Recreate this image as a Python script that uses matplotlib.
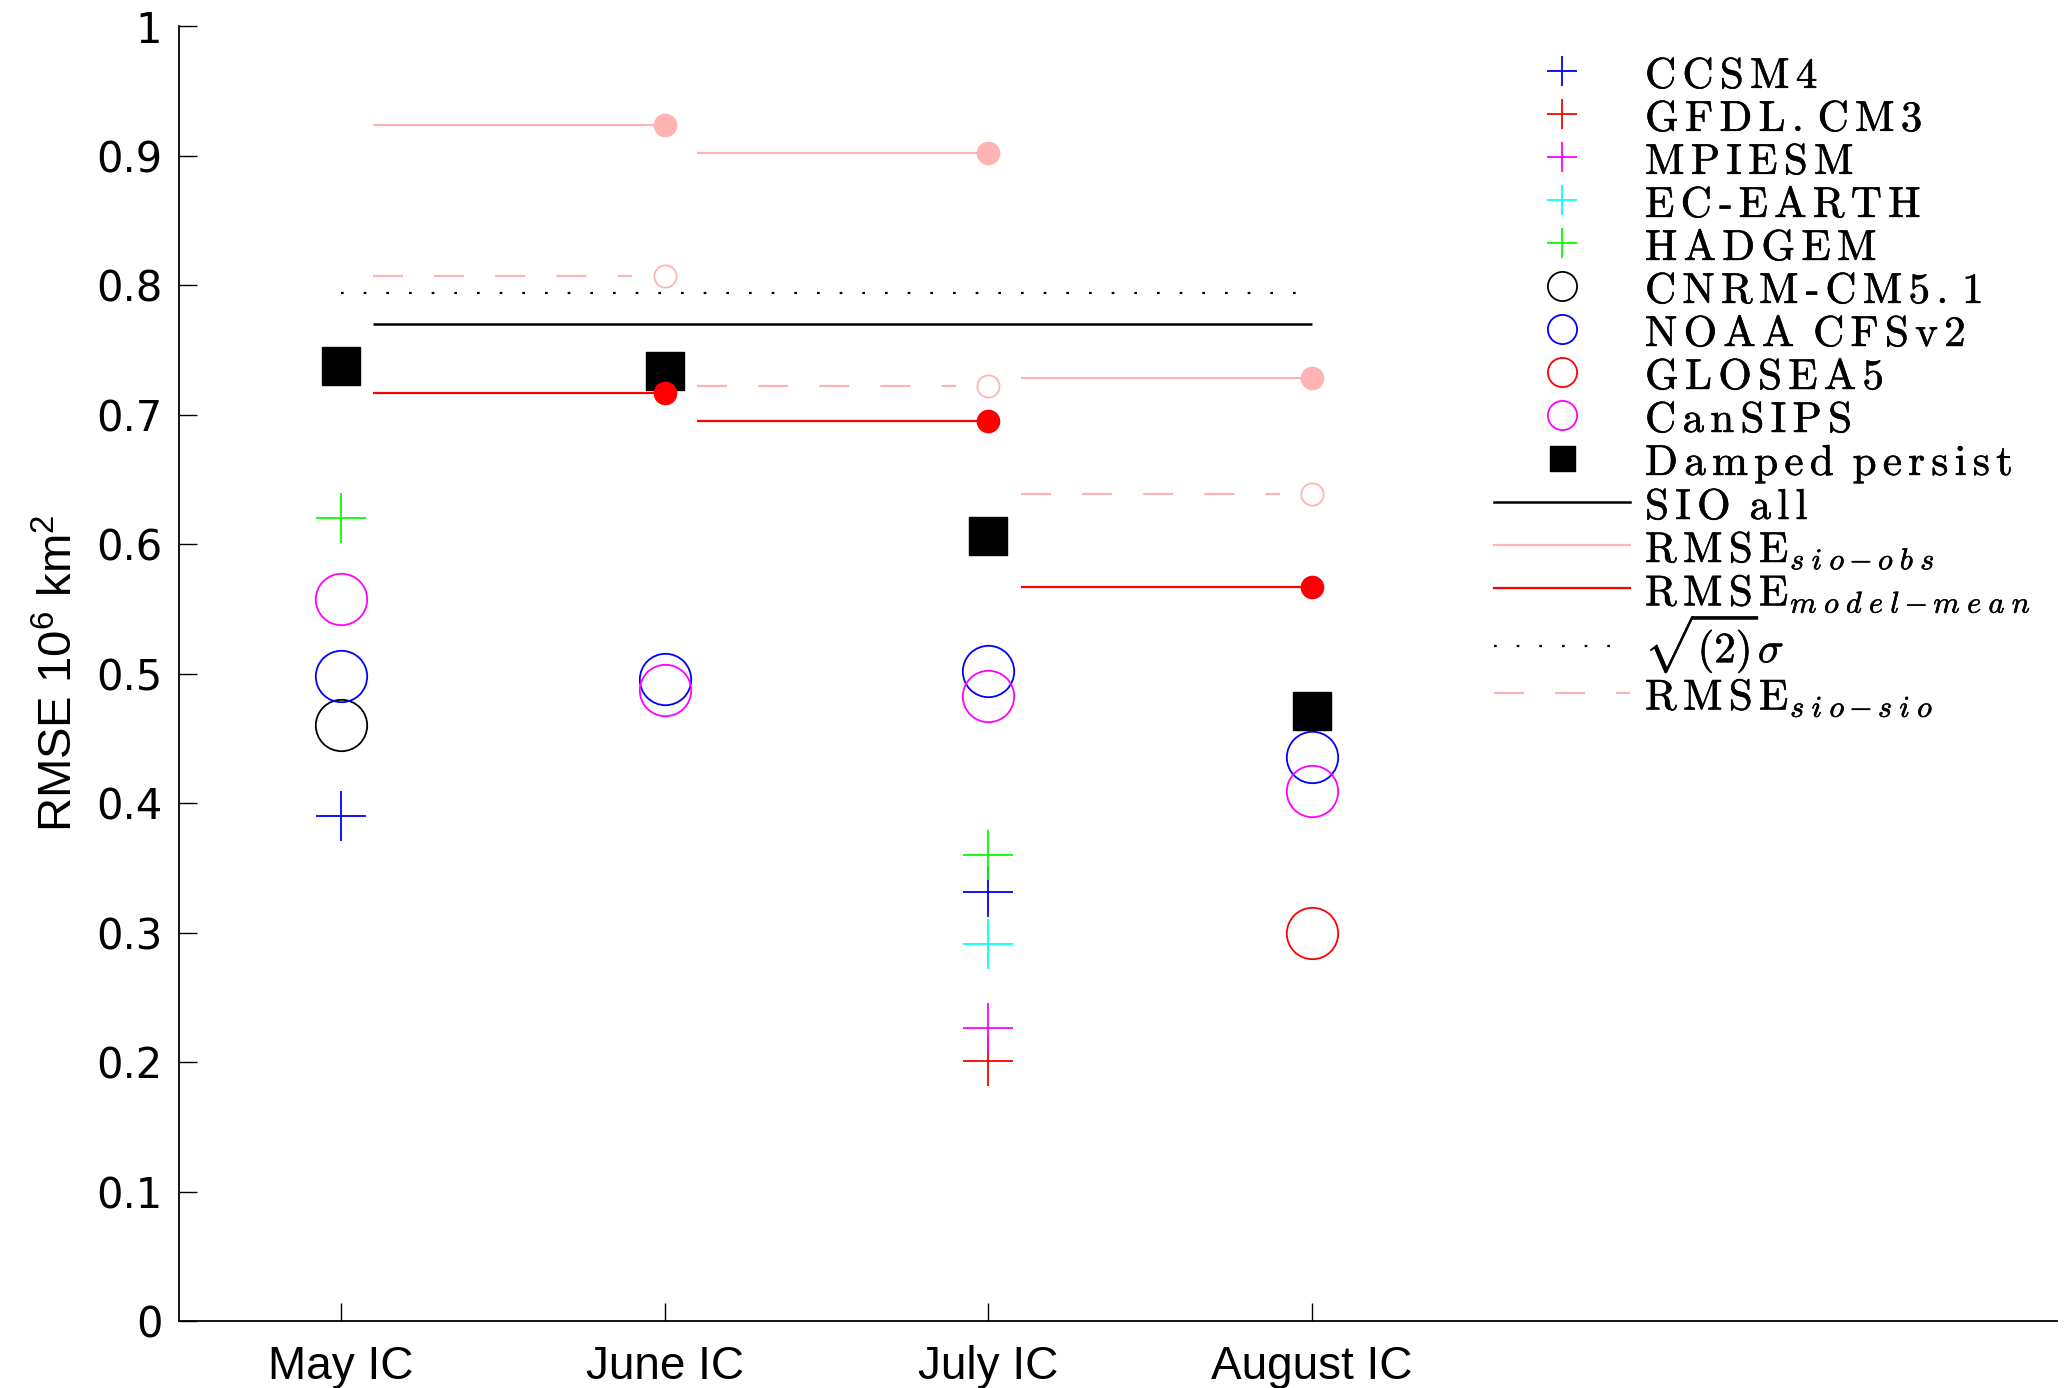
import numpy as np
import matplotlib
matplotlib.use("Agg")
import matplotlib.pyplot as plt
import matplotlib.patheffects as pe
from matplotlib.lines import Line2D
from matplotlib.font_manager import FontProperties

plt.rcParams['font.family'] = ['Liberation Sans', 'DejaVu Sans']
plt.rcParams['mathtext.fontset'] = 'custom'
plt.rcParams['mathtext.rm'] = 'Liberation Sans'
plt.rcParams['mathtext.it'] = 'Liberation Sans:italic'
plt.rcParams['mathtext.bf'] = 'Liberation Sans:bold'

nan = np.nan

# ---------------- data ----------------
ic_labels = ['May IC', 'June IC', 'July IC', 'August IC']
y_ticks = [0, 0.1, 0.2, 0.3, 0.4, 0.5, 0.6, 0.7, 0.8, 0.9, 1]
y_tick_labels = ['0', '0.1', '0.2', '0.3', '0.4', '0.5', '0.6', '0.7', '0.8', '0.9', '1']

model_names = ['CCSM4', 'GFDL.CM3', 'MPIESM', 'EC-EARTH', 'HADGEM',
               'CNRM-CM5.1', 'NOAA CFSv2', 'GLOSEA5', 'CanSIPS', 'Damped persist']
ccsm4 = [0.390, nan, 0.331, nan]
gfdl_cm3 = [nan, nan, 0.201, nan]
mpiesm = [nan, nan, 0.226, nan]
ec_earth = [nan, nan, 0.291, nan]
hadgem = [0.620, nan, 0.360, nan]
cnrm = [0.460, nan, nan, nan]
noaa_cfsv2 = [0.498, 0.496, 0.502, 0.436]
glosea5 = [nan, nan, nan, 0.300]
cansips = [0.558, 0.487, 0.483, 0.409]
damped = [0.738, 0.734, 0.606, 0.471]

# values at June, July, August IC (segments from previous IC)
rmse_sio_obs = [0.924, 0.902, 0.728]
rmse_model_mean = [0.717, 0.695, 0.567]
rmse_sio_sio = [0.807, 0.722, 0.639]
sio_all = 0.770
sqrt2_sigma = 0.794

line_labels_plain = ['SIO all']

# ---------------- styles ----------------
pink = '#FFB3B3'
plus_ms, circ_ms = 36, 37
model_styles = [
    (ccsm4, '+', 'blue'), (gfdl_cm3, '+', 'red'), (mpiesm, '+', 'magenta'),
    (ec_earth, '+', 'cyan'), (hadgem, '+', '#00FF00'),
    (cnrm, 'o', 'black'), (noaa_cfsv2, 'o', 'blue'), (glosea5, 'o', 'red'),
    (cansips, 'o', 'magenta'),
]

fig = plt.figure(figsize=(20.64, 13.88), dpi=100)
ax = fig.add_axes([0.0867, 0.0483, 0.9099, 0.9327])

x = np.arange(1, len(ic_labels) + 1)

for vals, mk, col in model_styles:
    ax.plot(x, vals, linestyle='none', marker=mk,
            ms=plus_ms if mk == '+' else circ_ms,
            mfc='none', mec=col, mew=1.3)
ax.plot(x, damped, linestyle='none', marker='s', ms=28, mfc='black', mec='black')

off = 0.1
dash = (0, (13.5, 14))
dot = (0, (1.2, 9.0))
ax.hlines(sqrt2_sigma, x[0], x[-1], colors='black', linestyles=dot, lw=1.6)
ax.hlines(sio_all, x[0] + off, x[-1], colors='black', lw=1.8)
ax.hlines(rmse_sio_obs, x[:-1] + off, x[1:], colors=pink, lw=1.6)
ax.plot(x[1:], rmse_sio_obs, linestyle='none', marker='o', ms=16, color=pink)
ax.hlines(rmse_sio_sio, x[:-1] + off, x[1:] - 0.1, colors=pink, linestyles=dash, lw=1.6)
ax.plot(x[1:], rmse_sio_sio, linestyle='none', marker='o', ms=16, mfc='none', mec=pink, mew=1.3)
ax.hlines(rmse_model_mean, x[:-1] + off, x[1:], colors='red', lw=1.6)
ax.plot(x[1:], rmse_model_mean, linestyle='none', marker='o', ms=16, color='red')

ax.set_xlim(0.5, 6.3)
ax.set_ylim(0, 1)
ax.set_xticks(x)
ax.set_xticklabels(ic_labels, fontsize=33, family='Liberation Sans')
ax.set_yticks(y_ticks)
ax.set_yticklabels(y_tick_labels, fontsize=30, family='DejaVu Sans')
ax.tick_params(direction='in', length=13, width=1.0, top=False, right=False)
ax.tick_params(axis='y', pad=12)
ax.tick_params(axis='x', pad=17)
for s in ['top', 'right']:
    ax.spines[s].set_visible(False)
for s in ['left', 'bottom']:
    ax.spines[s].set_linewidth(1.3)

ax.set_ylabel(r'RMSE 10$^{6}$ km$^{2}$', fontsize=34)
ax.yaxis.set_label_coords(-0.0515, 0.5)


# ---------------- legend ----------------
def spaced(s):
    parts = []
    for c in s:
        if c == ' ':
            parts.append(r'\,')
        elif c == '-':
            parts.append('\u2010')
        else:
            parts.append(c)
    return r'$\mathrm{' + r'\,'.join(parts) + '}$'


handles = []
labels = []
leg_ms = 21
for (vals, mk, col), name in zip(model_styles, model_names):
    handles.append(Line2D([], [], linestyle='none', marker=mk, ms=leg_ms,
                          mfc='none', mec=col, mew=1.3))
    labels.append(spaced(name))
handles.append(Line2D([], [], linestyle='none', marker='s', ms=18, mfc='black', mec='black'))
labels.append(spaced(model_names[-1]))

handles.append(Line2D([], [], color='black', lw=1.8))
labels.append(spaced(line_labels_plain[0]))
handles.append(Line2D([], [], color=pink, lw=1.6))
labels.append(r'$\mathrm{R\,M\,S\,E}_{s\;i\;o-o\;b\;s}$')
handles.append(Line2D([], [], color='red', lw=1.6))
labels.append(r'$\mathrm{R\,M\,S\,E}_{m\;o\;d\;e\;l-m\;e\;a\;n}$')
handles.append(Line2D([], [], color='black', lw=1.6, linestyle=dot))
labels.append(r'$\sqrt{(2)}\sigma$')
handles.append(Line2D([], [], color=pink, lw=1.6, linestyle=dash))
labels.append(r'$\mathrm{R\,M\,S\,E}_{s\;i\;o-s\;i\;o}$')

fs_leg = 31
leg = ax.legend(handles, labels, loc='upper left',
                bbox_to_anchor=(1494 / 2064, 1 - 54 / 1388),
                bbox_transform=fig.transFigure,
                frameon=False, borderpad=0, borderaxespad=0,
                handlelength=136 / (fs_leg * 100 / 72), handleheight=1.0,
                handletextpad=0.35,
                labelspacing=0.0, numpoints=1,
                prop=FontProperties(size=fs_leg, math_fontfamily='cm'))
for t in leg.get_texts():
    t.set_path_effects([pe.withStroke(linewidth=0.4, foreground='black')])

fig.savefig('out.png', dpi=100)
